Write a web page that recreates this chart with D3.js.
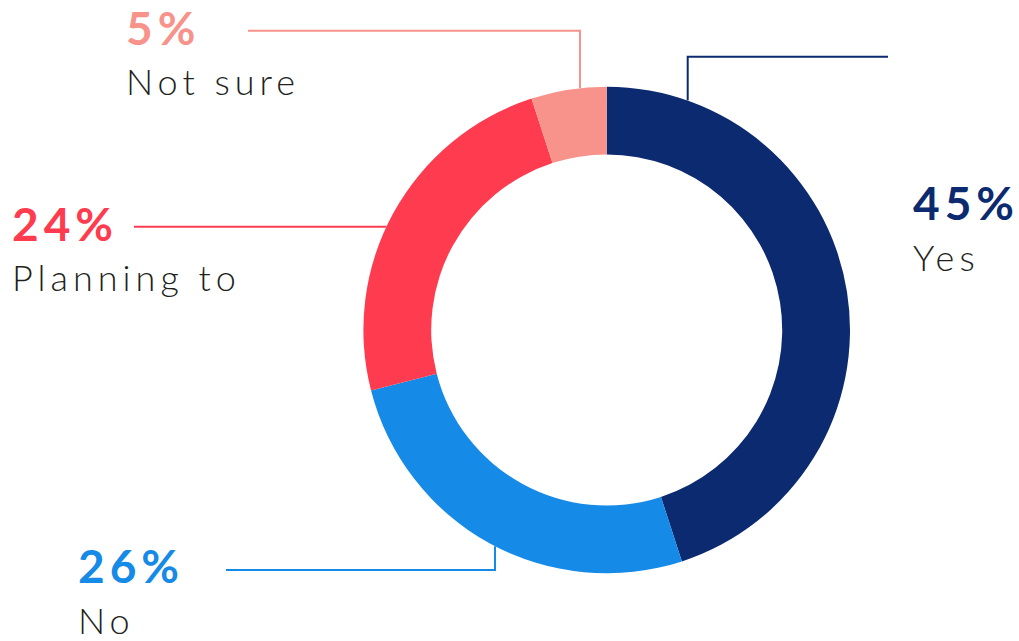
<!DOCTYPE html>
<html>
<head>
<meta charset="utf-8">
<script src="https://cdn.jsdelivr.net/npm/d3@7"></script>
<style>
  body { margin: 0; background: #fff; }
  svg { display: block; }
</style>
</head>
<body>
<script>
// chart data
var labels = ["Yes", "No", "Planning to", "Not sure"];
var values = [45, 26, 24, 5];
var colors = ["#0c2a70", "#158ae6", "#fe3b4f", "#f7938a"];

var width = 1019, height = 641;
var cx = 606.7, cy = 330;
var outerR = 243.3, innerR = 175.5;

var svg = d3.select("body")
  .append("svg")
  .attr("width", width)
  .attr("height", height);

var pie = d3.pie().sort(null).value(function (d) { return d; });
var arc = d3.arc().innerRadius(innerR).outerRadius(outerR);

var donut = svg.append("g")
  .attr("transform", "translate(" + cx + "," + cy + ")");

donut.selectAll("path")
  .data(pie(values))
  .enter()
  .append("path")
  .attr("d", arc)
  .attr("fill", function (d, i) { return colors[i]; });

// label placement: text position, leader line horizontal y, start x, elbow x
// (elbow null -> line runs straight into the ring)
var labelPos = [
  { x: 913, y: 220, lineY: 56.7, lineX0: 888, elbow: 687.7 },
  { x: 78, y: 583, lineY: 570, lineX0: 226, elbow: 495 },
  { x: 12, y: 240.5, lineY: 226.7, lineX0: 134, elbow: null },
  { x: 126, y: 44.5, lineY: 30.7, lineX0: 248, elbow: 580 }
];

// where a vertical (x given) or horizontal (y given) line meets the ring
function ringY(x, below) {
  var dx = x - cx;
  var dy = Math.sqrt(outerR * outerR - dx * dx);
  return below ? cy + dy : cy - dy;
}
function ringX(y) {
  var dy = y - cy;
  return cx - Math.sqrt(outerR * outerR - dy * dy);
}

labels.forEach(function (name, i) {
  var p = labelPos[i];
  var pts;
  if (p.elbow === null) {
    pts = [[p.lineX0, p.lineY], [ringX(p.lineY), p.lineY]];
  } else {
    var below = p.lineY > cy;
    pts = [[p.lineX0, p.lineY], [p.elbow, p.lineY], [p.elbow, ringY(p.elbow, below)]];
  }
  svg.append("path")
    .attr("d", d3.line()(pts))
    .attr("fill", "none")
    .attr("stroke", colors[i])
    .attr("stroke-width", 2);

  svg.append("text")
    .attr("x", p.x)
    .attr("y", p.y)
    .attr("fill", colors[i])
    .style("font-family", "Lato, 'Open Sans', sans-serif")
    .style("font-weight", "bold")
    .style("font-size", "46px")
    .style("letter-spacing", "5px")
    .text(values[i] + "%");

  svg.append("text")
    .attr("x", p.x)
    .attr("y", p.y + 50.5)
    .attr("fill", "#231f20")
    .style("font-family", "Lato, 'Open Sans', sans-serif")
    .style("font-weight", 300)
    .style("font-size", "36px")
    .style("letter-spacing", "5px")
    .text(name);
});
</script>
</body>
</html>
